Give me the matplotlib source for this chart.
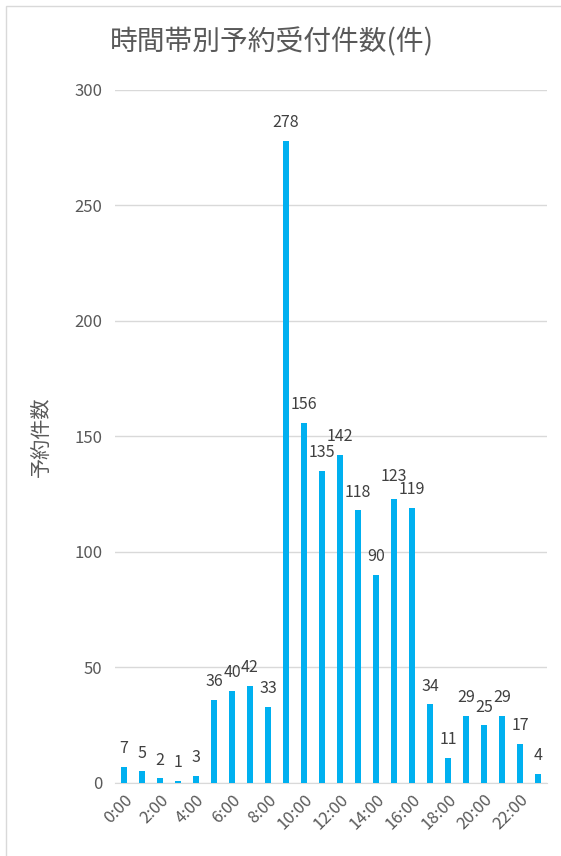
import matplotlib.pyplot as plt
from matplotlib.patches import Rectangle

plt.rcParams["font.family"] = ["Noto Sans CJK JP", "DejaVu Sans"]

# ── DATA ──────────────────────────────────────────────────────────────────────
hours  = [f"{h}:00" for h in range(24)]
counts = [7, 5, 2, 1, 3, 36, 40, 42, 33, 278, 156, 135,
          142, 118, 90, 123, 119, 34, 11, 29, 25, 29, 17, 4]
yticks = [0, 50, 100, 150, 200, 250, 300]

TITLE  = "時間帯別予約受付件数(件)"
YLABEL = "予約件数"

BAR_COLOR  = "#00B0F0"
TEXT_COLOR = "#595959"
GRID_COLOR = "#D9D9D9"

# ── CHART ─────────────────────────────────────────────────────────────────────
fig = plt.figure(figsize=(5.61, 8.56), dpi=100)
ax = fig.add_axes([0.205, 0.0853, 0.77, 0.8096])

x = list(range(len(hours)))
bars = ax.bar(x, counts, width=0.32, color=BAR_COLOR, zorder=3)
labels = ax.bar_label(bars, padding=7, fontsize=11.5, color="#404040")
# nudge the 15:00 label up a little so it doesn't sit on top of 16:00's
labels[15].xyann = (0, 10)

ax.set_xlim(-0.5, len(hours) - 0.5)
ax.set_ylim(0, 300)
ax.set_yticks(yticks)
ax.set_xticks(x[::2])
ax.set_xticklabels(hours[::2], rotation=45, ha="right", rotation_mode="anchor")
ax.tick_params(axis="both", length=0, labelsize=12, colors=TEXT_COLOR)
ax.tick_params(axis="y", pad=9)
ax.tick_params(axis="x", pad=6)
ax.grid(axis="y", color=GRID_COLOR, linewidth=1, zorder=0)
for s in ["top", "right", "left"]:
    ax.spines[s].set_visible(False)
ax.spines["bottom"].set_color(GRID_COLOR)

ax.set_ylabel(YLABEL, fontsize=14.5, color=TEXT_COLOR, labelpad=16)
fig.text(0.485, 0.951, TITLE, ha="center", va="center", fontsize=20, color=TEXT_COLOR)

# chart frame (partially visible, like the screenshot)
fig.patches.append(Rectangle((6 / 561, -0.05), 1.2, 1.05 - 6 / 856,
                             transform=fig.transFigure, fill=False,
                             edgecolor="#D9D9D9", linewidth=1))

fig.savefig("out.png", dpi=100)
